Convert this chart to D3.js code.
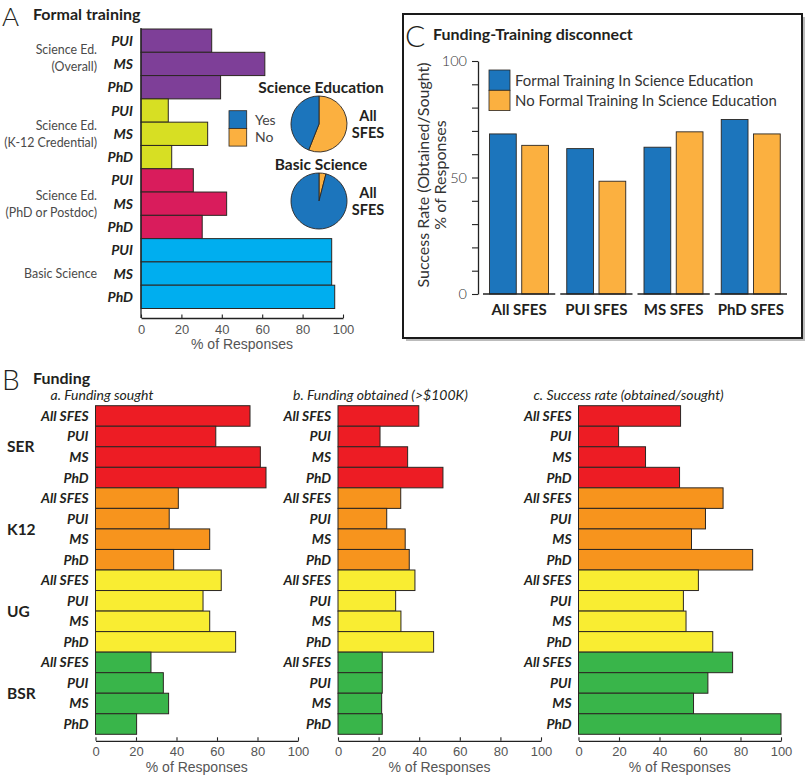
<!DOCTYPE html>
<html><head><meta charset="utf-8">
<script src="https://cdn.jsdelivr.net/npm/d3@7"></script>
<style>body{margin:0;background:#fff}svg{display:block}</style>
</head><body><svg id="c" width="812" height="775"></svg>
<script>
// ---------- DATA ----------
const aGroups = [["Science Ed.","(Overall)"],["Science Ed.","(K-12 Credential)"],["Science Ed.","(PhD or Postdoc)"],["Basic Science"]];
const aSub = ["PUI","MS","PhD"];
const aValues = [[35,61.3,39.4],[13.5,33,15.2],[25.9,42.4,30.3],[94.4,94.4,95.9]];
const pieTitles = ["Science Education","Basic Science"];
const pieLegend = ["Yes","No"];
const pieYes = [44,96];
const pieNo = [56,4];
const cGroups = ["All SFES","PUI SFES","MS SFES","PhD SFES"];
const cSeries = ["Formal Training In Science Education","No Formal Training In Science Education"];
const cFormal = [68.7,62.4,63,74.9];
const cNoFormal = [63.8,48.4,69.6,68.7];
const bGroups = ["SER","K12","UG","BSR"];
const bSub = ["All SFES","PUI","MS","PhD"];
const bTitles = ["a. Funding sought","b. Funding obtained (>$100K)","c. Success rate (obtained/sought)"];
const bSought = [[76.3,59.4,81.4,84.2],[40.9,36.4,56.4,38.6],[62.1,53.1,56.4,69.2],[27.4,33.5,36.1,20.3]];
const bObtained = [[39.8,20.7,34.3,51.7],[30.9,24,33.1,35.1],[37.9,28.4,31,47.1],[21.8,21.8,21.5,21.8]];
const bSuccess = [[50.4,19.8,33.1,49.9],[71.4,62.7,55.8,86],[59.2,51.8,53.1,66.3],[76.1,63.9,56.8,100]];
const pctTicks = [0,20,40,60,80,100];

// ---------- STYLE ----------
const aColors = ["#7e3f98","#d7df23","#d91c5c","#00aeef"];
const bColors = ["#ed1c24","#f7941d","#f9ed32","#39b54a"];
const yesCol = "#1c75bc", noCol = "#fbb040";
const FONT = "Lato, 'Open Sans', sans-serif";
const TFONT = "'Liberation Sans', Arial, sans-serif";
const INK = "#231f20", EDGE = "#2b2622", GREY = "#555";
const aLabelShift = [-6,0,0,0];

const svg = d3.select("#c");
function txt(g,x,y,s,o={}){
  const t=g.append("text").attr("x",x).attr("y",y).text(s)
    .attr("font-family",o.f||FONT).attr("font-size",o.size||14)
    .attr("font-weight",o.w||"normal").attr("font-style",o.it?"italic":"normal")
    .attr("fill",o.fill||INK).attr("text-anchor",o.anchor||"start");
  if(o.dy) t.attr("dy",o.dy);
  return t;
}
function styleAxis(g,size){
  g.selectAll("path.domain").attr("stroke","#222").attr("stroke-width",1.3);
  g.selectAll(".tick line").attr("stroke","#222").attr("stroke-width",1.1);
  g.selectAll(".tick text").attr("font-family",TFONT).attr("font-size",size).attr("fill",GREY);
}

// ---------- PANEL A ----------
const gA = svg.append("g");
txt(gA,2,26,"A",{size:26,w:300});
txt(gA,33,20,"Formal training",{size:16,w:"bold"});
const xA = d3.scaleLinear().domain([0,100]).range([141,343]);
const rowsA = aGroups.flatMap((g,i)=>aSub.map((s,j)=>({g:i,s,v:aValues[i][j],k:i+"|"+j})));
const yA = d3.scaleBand().domain(rowsA.map(d=>d.k)).range([29,308.5]);
gA.selectAll("rect.bar").data(rowsA).join("rect").attr("class","bar")
  .attr("x",xA(0)).attr("y",d=>yA(d.k)).attr("width",d=>xA(d.v)-xA(0))
  .attr("height",yA.bandwidth()).attr("fill",d=>aColors[d.g]).attr("stroke",EDGE).attr("stroke-width",1);
rowsA.forEach(d=>txt(gA,xA(0)-8,yA(d.k)+yA.bandwidth()/2,d.s,{w:"bold",it:true,anchor:"end",dy:"0.36em",size:14}));
aGroups.forEach((lines,i)=>{
  const cy = (yA(i+"|0")+yA(i+"|2")+yA.bandwidth())/2 + aLabelShift[i];
  const off = lines.length===1 ? [0] : [-8,8.5];
  lines.forEach((l,j)=>txt(gA,97,cy+off[j],l,{anchor:"end",dy:"0.36em",size:12.4,fill:"#4a4a4a"}));
});
const axA = gA.append("g").attr("transform",`translate(0,${yA.range()[1]+9.5})`)
  .call(d3.axisBottom(xA).tickValues(pctTicks).tickSize(-3.5).tickSizeOuter(0).tickPadding(7));
styleAxis(axA,13);
gA.append("line").attr("x1",xA(0)).attr("x2",xA(0)).attr("y1",yA.range()[0]-1).attr("y2",yA.range()[1]+9.5)
  .attr("stroke","#222").attr("stroke-width",1.3);
txt(gA,(xA(0)+xA(100))/2,349,"% of Responses",{f:TFONT,size:14,fill:GREY,anchor:"middle"});

// legend yes/no
[yesCol,noCol].forEach((c,i)=>{
  gA.append("rect").attr("x",229).attr("y",110.7+i*17.7).attr("width",17.7).attr("height",17.7)
    .attr("fill",c).attr("stroke",EDGE).attr("stroke-width",0.8);
  txt(gA,255,119.5+i*17.7,pieLegend[i],{dy:"0.36em",size:14,fill:"#444"});
});
// pies
const pie = d3.pie().sort(null).value(d=>d.v);
const arc = d3.arc().innerRadius(0).outerRadius(28);
const pieCY = [124,201];
pieTitles.forEach((t,i)=>{
  const g = gA.append("g").attr("transform",`translate(319,${pieCY[i]})`);
  g.selectAll("path").data(pie([{k:"No",v:pieNo[i]},{k:"Yes",v:pieYes[i]}])).join("path")
    .attr("d",arc).attr("fill",d=>d.data.k==="Yes"?yesCol:noCol).attr("stroke",EDGE).attr("stroke-width",0.9);
  txt(gA,321,pieCY[i]-37,t,{w:"bold",size:15.5,anchor:"middle",dy:"0.36em"});
  txt(gA,368,pieCY[i]-8,"All",{w:"bold",size:14.5,anchor:"middle",dy:"0.36em"});
  txt(gA,368,pieCY[i]+8.5,"SFES",{w:"bold",size:14.5,anchor:"middle",dy:"0.36em"});
});

// ---------- PANEL C ----------
const gC = svg.append("g");
gC.append("rect").attr("x",406).attr("y",17).attr("width",399).attr("height",324).attr("fill","#bbb");
gC.append("rect").attr("x",403).attr("y",14).attr("width",399).attr("height",324)
  .attr("fill","#fff").attr("stroke","#1a1a1a").attr("stroke-width",2);
txt(gC,405,47,"C",{size:30,w:300});
txt(gC,433,40,"Funding-Training disconnect",{size:16,w:"bold"});
const xC = d3.scaleBand().domain(cGroups).range([480.5,789.5]);
const xCi = d3.scaleBand().domain([0,1]).range([9,68]).paddingInner(0.17);
const yC = d3.scaleLinear().domain([0,100]).range([294,61]);
const cRows = cGroups.flatMap((g,i)=>[{g,s:0,v:cFormal[i]},{g,s:1,v:cNoFormal[i]}]);
gC.selectAll("rect.cbar").data(cRows).join("rect").attr("class","cbar")
  .attr("x",d=>xC(d.g)+xCi(d.s)).attr("width",xCi.bandwidth())
  .attr("y",d=>yC(d.v)).attr("height",d=>yC(0)-yC(d.v))
  .attr("fill",d=>d.s===0?yesCol:noCol).attr("stroke",EDGE).attr("stroke-width",0.9);
const axC = gC.append("g").attr("transform","translate(478,0)")
  .call(d3.axisLeft(yC).tickValues(d3.range(0,101,10)).tickSize(6).tickSizeOuter(0).tickPadding(5)
  .tickFormat(d=>d%50===0?d:""));
styleAxis(axC,14.5);
axC.selectAll(".tick text").attr("font-family",FONT).attr("font-weight",300).attr("fill","#333");
cGroups.forEach(g=>{
  gC.append("line").attr("x1",xC(g)+2.5).attr("x2",xC(g)+xC.bandwidth()-2.5)
    .attr("y1",yC(0)).attr("y2",yC(0)).attr("stroke","#222").attr("stroke-width",1.5);
  txt(gC,xC(g)+xC.bandwidth()/2,yC(0)+16,g,{w:"bold",size:15,anchor:"middle",dy:"0.36em"});
});
const yTitle = gC.append("g").attr("transform","translate(0,175)");
txt(yTitle,0,0,"Success Rate (Obtained/Sought)",{size:16,anchor:"middle",fill:"#333"}).attr("transform","translate(429,0) rotate(-90)");
txt(yTitle,0,0,"% of Responses",{size:16,anchor:"middle",fill:"#333"}).attr("transform","translate(446,0) rotate(-90)");
[yesCol,noCol].forEach((c,i)=>{
  gC.append("rect").attr("x",489).attr("y",70+i*20.3).attr("width",21).attr("height",20.3)
    .attr("fill",c).attr("stroke",EDGE).attr("stroke-width",0.8);
  txt(gC,515,81+i*19.5,cSeries[i],{size:14.9,dy:"0.36em",fill:"#333"});
});

// ---------- PANEL B ----------
const gB = svg.append("g");
txt(gB,2,390,"B",{size:28,w:300});
txt(gB,33,384,"Funding",{size:16,w:"bold"});
const rowsB = bGroups.flatMap((g,i)=>bSub.map((s,j)=>({g:i,s,j,k:i+"|"+j})));
const yB = d3.scaleBand().domain(rowsB.map(d=>d.k)).range([405.7,734.3]);
const subRanges = [[95.5,298],[338,541],[578.5,781]];
const bSeries = [bSought,bObtained,bSuccess];
bSeries.forEach((vals,p)=>{
  const x = d3.scaleLinear().domain([0,100]).range(subRanges[p]);
  const g = gB.append("g");
  txt(g,x(0)-45,400,bTitles[p],{it:true,size:14});
  g.selectAll("rect").data(rowsB).join("rect")
    .attr("x",x(0)).attr("y",d=>yB(d.k)).attr("width",d=>x(vals[d.g][d.j])-x(0))
    .attr("height",yB.bandwidth()).attr("fill",d=>bColors[d.g]).attr("stroke",EDGE).attr("stroke-width",1);
  rowsB.forEach(d=>txt(g,x(0)-7,yB(d.k)+yB.bandwidth()/2,d.s,{w:"bold",it:true,anchor:"end",dy:"0.36em",size:13.8}));
  const ax = g.append("g").attr("transform",`translate(0,${yB.range()[1]+6.5})`)
    .call(d3.axisBottom(x).tickValues(pctTicks).tickSize(-3.5).tickSizeOuter(0).tickPadding(6));
  styleAxis(ax,13);
  txt(g,(x(0)+x(100))/2,772,"% of Responses",{f:TFONT,size:14,fill:GREY,anchor:"middle"});
});
bGroups.forEach((gname,i)=>{
  const cy=(yB(i+"|0")+yB(i+"|3")+yB.bandwidth())/2;
  txt(gB,7,cy,gname,{w:"bold",size:15.5,dy:"0.36em"});
});
</script></body></html>
